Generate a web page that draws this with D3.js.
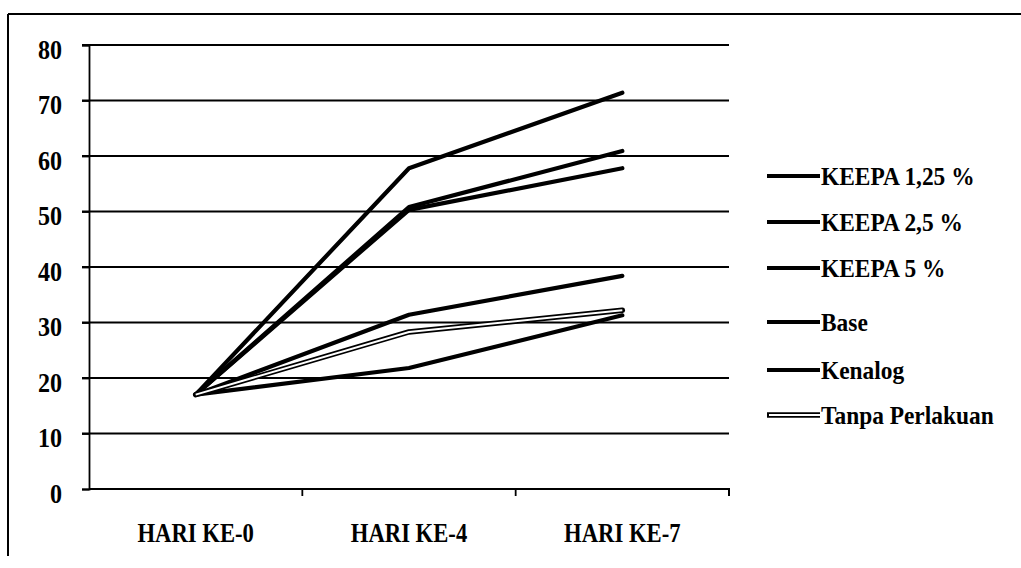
<!DOCTYPE html>
<html><head><meta charset="utf-8">
<script src="https://cdn.jsdelivr.net/npm/d3@7"></script>
<style>
body{margin:0;background:#fff;}
text{font-family:"Liberation Serif","DejaVu Serif",serif;font-weight:bold;fill:#000;}
</style></head>
<body><svg id="chart" width="1021" height="568"></svg>
<script>
const categories = ["HARI KE-0","HARI KE-4","HARI KE-7"];
const seriesNames = ["KEEPA 1,25 %","KEEPA 2,5 %","KEEPA 5 %","Base","Kenalog","Tanpa Perlakuan"];
const keepa125 = [17.0, 57.8, 71.4];
const keepa25  = [17.0, 50.8, 60.9];
const keepa5   = [17.0, 50.3, 57.8];
const base     = [17.0, 31.4, 38.4];
const kenalog  = [17.0, 21.8, 31.3];
const tanpa    = [17.0, 28.3, 32.2];
const yTicks = [0,10,20,30,40,50,60,70,80];

const series = [keepa125, keepa25, keepa5, base, kenalog, tanpa];
const svg = d3.select("#chart");

// outer frame (top & left edges visible in scan)
svg.append("line").attr("x1",8).attr("x2",1021).attr("y1",14).attr("y2",14).attr("stroke","#000").attr("stroke-width",2);
svg.append("line").attr("x1",8).attr("x2",8).attr("y1",14).attr("y2",556).attr("stroke","#000").attr("stroke-width",2);

const x = d3.scaleBand().domain(categories).range([89,729]);
const y = d3.scaleLinear().domain([0,80]).range([489,45]);

// gridlines
svg.append("g").selectAll("line").data(yTicks.filter(d=>d>0)).join("line")
  .attr("x1",82).attr("x2",729).attr("y1",d=>y(d)).attr("y2",d=>y(d))
  .attr("stroke","#000").attr("stroke-width",1.8);

// y axis
const ySx = 0.86;
const yAxis = svg.append("g").attr("transform","translate(89,0)")
  .call(d3.axisLeft(y).tickValues(yTicks).tickSize(7).tickPadding(19));
yAxis.select(".domain").attr("stroke-width",1.8);
yAxis.selectAll(".tick line").attr("stroke-width",1.8);
yAxis.selectAll(".tick text").style("font-size","28px")
  .attr("x",-27/ySx).attr("transform",`scale(${ySx},1)`).attr("dy","0.47em");

// x axis
const xSx = 0.84;
const xAxis = svg.append("g").attr("transform","translate(0,489)")
  .call(d3.axisBottom(x).tickSize(0).tickPadding(28));
xAxis.select(".domain").attr("stroke-width",2).attr("d","M89,0H729V7");
xAxis.selectAll(".tick text").style("font-size","27px")
  .attr("y",53).attr("dy",0).attr("transform",`scale(${xSx},1)`);
// category boundary ticks
svg.append("g").selectAll("line").data(categories.slice(1)).join("line")
  .attr("x1",d=>x(d)).attr("x2",d=>x(d)).attr("y1",489).attr("y2",496)
  .attr("stroke","#000").attr("stroke-width",1.8);

const line = d3.line().x((d,i)=>x(categories[i])+x.bandwidth()/2).y(d=>y(d));

series.forEach((s,i)=>{
  const isDouble = i===5;
  svg.append("path").datum(s).attr("d",line).attr("fill","none")
    .attr("stroke","#000").attr("stroke-width",isDouble?5.5:4.2)
    .attr("stroke-linecap","round").attr("stroke-linejoin","round");
  if(isDouble){
    svg.append("path").datum(s).attr("d",line).attr("fill","none")
      .attr("stroke","#fff").attr("stroke-width",2)
      .attr("stroke-linecap","butt").attr("stroke-linejoin","round");
  }
});

// legend
const lSx = 0.9;
const legendY = [176,222,268,322,370,415];
const lg = svg.append("g");
seriesNames.forEach((n,i)=>{
  const g = lg.append("g").attr("transform",`translate(0,${legendY[i]})`);
  g.append("line").attr("x1",767).attr("x2",820).attr("y1",0).attr("y2",0)
    .attr("stroke","#000").attr("stroke-width",i===5?5.5:4.2);
  if(i===5) g.append("line").attr("x1",769).attr("x2",820).attr("y1",0).attr("y2",0)
    .attr("stroke","#fff").attr("stroke-width",2);
  g.append("text").attr("transform",`translate(821,0) scale(${lSx},1)`).attr("dy","0.34em")
    .style("font-size","26px").text(n);
});
</script></body></html>
